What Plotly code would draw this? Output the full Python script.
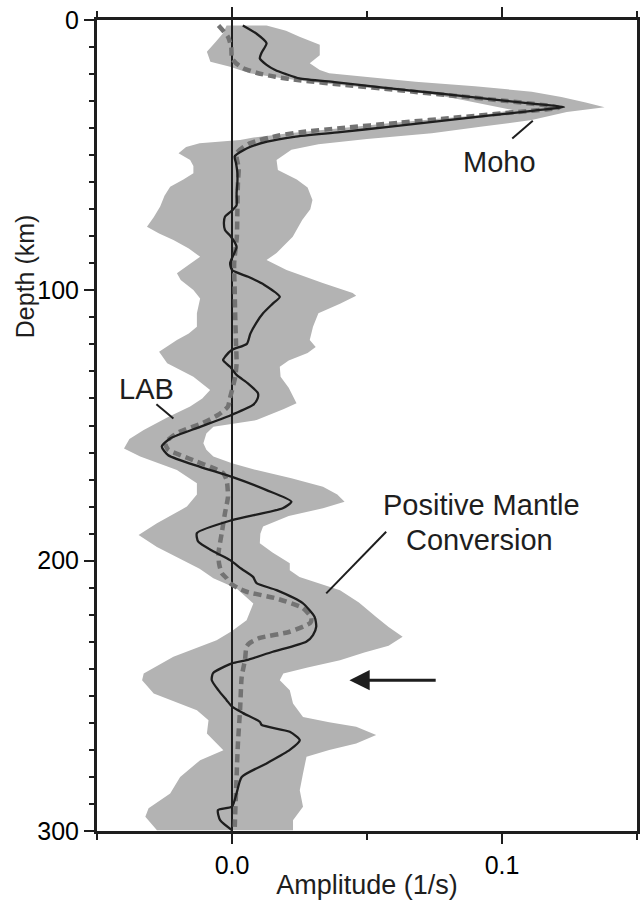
import plotly.graph_objects as go

# ---------------- data ----------------
DEPTH_RANGE = [0, 300]
AMP_RANGE = [-0.05, 0.15]

# Stacked receiver function (solid black)
stack_depth = [2, 5, 8.6, 12, 14.2, 16.6, 18.5, 20, 21.6, 23, 25, 27, 29, 31, 32.2, 33.5, 35.5,
               37.5, 39.5, 41.5, 43.2, 45, 47.5, 50.5, 53, 56.7, 60, 64, 68.5, 70.5, 72.8, 75,
               77.7, 80, 83.9, 87, 90, 92.5, 95, 98, 102.4, 105, 108.5, 112, 116, 119.8, 122,
               124.5, 125.8, 128.3, 131.3, 134.5, 138, 140, 142.4, 146, 150.5, 154.8, 157.8,
               161, 165.3, 169, 173.9, 178.2, 180.6, 185, 189.8, 193, 196.5, 199.8, 203, 206,
               208.3, 210.9, 215.7, 220.8, 224.4, 227.5, 230, 233.7, 236.8, 238, 241.6, 244.2,
               248, 251.6, 254, 256.4, 259.6, 260.8, 263.3, 266.4, 270, 275, 280, 286, 291,
               292.3, 296, 299.7]
stack_amp = [0.004, 0.009, 0.0128, 0.011, 0.0103, 0.0128, 0.016, 0.02, 0.025, 0.038, 0.056,
             0.075, 0.093, 0.112, 0.123, 0.112, 0.094, 0.076, 0.058, 0.040, 0.023, 0.013,
             0.0054, 0.001, 0.0015, 0.002, 0.002, 0.0017, 0.0017, 0.0, -0.0026, -0.003,
             -0.0026, -0.0005, 0.0017, 0.0005, -0.0007, 0.0, 0.006, 0.012, 0.0177, 0.015,
             0.0115, 0.009, 0.0068, 0.0055, 0.0, -0.0025, -0.0033, -0.0007, 0.0017, 0.006,
             0.0096, 0.0095, 0.0078, 0.0, -0.0118, -0.0229, -0.026, -0.0236, -0.0118, 0.0,
             0.0128, 0.022, 0.0188, 0.0, -0.013, -0.0125, -0.007, -0.0007, 0.0035, 0.0078,
             0.0091, 0.0165, 0.0262, 0.0306, 0.0312, 0.03, 0.0275, 0.0151, 0.0054, 0.0,
             -0.007, -0.0075, -0.005, -0.002, 0.0, 0.0041, 0.0103, 0.011, 0.0214, 0.0251,
             0.0214, 0.0128, 0.0036, 0.0017, 0.0, -0.0052, -0.0044, 0.0]

# Model / synthetic (dashed gray)
model_depth = [2, 6.2, 10, 14.2, 16, 17.8, 19.5, 21, 22.3, 24, 26, 28, 30, 31.8, 32.4, 33, 34,
               36, 38, 40, 41.4, 42.8, 45.6, 49.3, 55, 60, 70, 80, 90, 100, 110, 120, 127,
               132, 137, 140, 143, 146, 149, 152.8, 156.5, 159, 161, 163.4, 165.5, 167.6,
               170.2, 176.4, 182.4, 189.8, 197.2, 201, 204.6, 206.5, 208.3, 210, 211.5, 214,
               217.5, 221.2, 223, 226.3, 228.6, 230.5, 231.8, 236.8, 242.9, 255, 267.5, 280,
               296, 299.7]
model_amp = [-0.005, -0.0015, -0.0003, 0.0, 0.0015, 0.0041, 0.009, 0.016, 0.025, 0.042, 0.062,
             0.082, 0.102, 0.118, 0.121, 0.117, 0.106, 0.084, 0.062, 0.040, 0.026, 0.017,
             0.0066, 0.0017, 0.0025, 0.0022, 0.002, 0.0018, 0.0008, 0.001, 0.0012, 0.0015,
             0.0017, 0.0012, 0.0, -0.0008, -0.0015, -0.005, -0.0107, -0.0204, -0.0247,
             -0.0236, -0.019, -0.013, -0.0075, -0.0033, -0.002, -0.0015, -0.0026, -0.0038,
             -0.005, -0.0048, -0.0038, -0.002, -0.0007, 0.002, 0.0054, 0.0165, 0.0262,
             0.0294, 0.029, 0.0214, 0.0103, 0.0065, 0.0054, 0.0048, 0.0036, 0.003, 0.0022,
             0.0017, 0.0011, 0.001]

# Uncertainty band, left edge
band_left_depth = [2, 4.9, 8, 11.7, 15.4, 17.3, 19.7, 21.5, 23, 24.5, 26, 27.5, 29.5, 31.5,
                   33.3, 35, 36.7, 38.2, 40, 41.9, 43.5, 44.4, 45.6, 47, 49.3, 51.8, 54, 56.7,
                   59, 61.7, 65, 69, 73, 76.5, 79, 81.4, 84.5, 87.6, 90.5, 93.7, 96.2, 99.9,
                   103, 108.5, 113.5, 116, 118.4, 122.7, 127, 132, 136.9, 140, 143, 147, 151.7,
                   155, 158.5, 161.5, 166.5, 171.4, 175.5, 180, 186.2, 190.5, 194.9, 199.8,
                   203, 206.5, 210.3, 215.8, 222, 226, 229.4, 235.5, 241.7, 244.2, 249.1,
                   255.3, 259, 263.9, 270.1, 273.8, 280, 286.1, 291.6, 294.7, 299.7]
band_left_amp = [-0.002, -0.0033, -0.006, -0.0093, -0.008, -0.0007, 0.0066, 0.018, 0.03,
                 0.045, 0.060, 0.074, 0.085, 0.095, 0.104, 0.094, 0.074, 0.058, 0.040, 0.021,
                 0.008, 0.003, -0.012, -0.017, -0.0198, -0.0155, -0.0143, -0.0143, -0.018,
                 -0.0229, -0.025, -0.0266, -0.029, -0.0315, -0.027, -0.0217, -0.016, -0.0118,
                 -0.016, -0.0204, -0.019, -0.0143, -0.0118, -0.013, -0.013, -0.016, -0.0204,
                 -0.027, -0.024, -0.0143, -0.0081, -0.011, -0.0155, -0.024, -0.0327, -0.038,
                 -0.04, -0.034, -0.0204, -0.013, -0.013, -0.0167, -0.0278, -0.0346, -0.0278,
                 -0.018, -0.012, -0.0069, 0.0017, 0.0079, 0.0054, 0.0, -0.0057, -0.0217,
                 -0.0327, -0.0333, -0.029, -0.013, -0.0087, -0.0093, -0.0032, -0.0118,
                 -0.0192, -0.0229, -0.0309, -0.0321, -0.0278]

# Uncertainty band, right edge
band_right_depth = [2, 4, 6.2, 9.2, 13, 16, 18.5, 19.7, 21, 22.8, 24.5, 26.5, 28.5, 30.5, 32.3,
                    34, 37, 39.5, 41.9, 44, 46, 48, 51.8, 55.5, 59, 62, 66.6, 70, 74, 80.2,
                    86.2, 88.8, 92.5, 97.3, 101, 102, 105, 108.5, 113.5, 118.4, 121, 123.2,
                    126, 128.3, 132, 136, 141.8, 144, 148, 150.5, 153, 156.6, 159, 161.5, 164,
                    166.5, 169.5, 172.7, 175.5, 178.2, 180.6, 183.5, 187.4, 190, 193.6, 197,
                    201, 203.5, 206, 210.9, 215.5, 220.8, 224.5, 228.1, 231.5, 234, 236.8,
                    239.5, 241.7, 244.2, 247.9, 252.8, 257.8, 259.8, 261.4, 264.5, 267.6, 270,
                    272.5, 278.7, 284.9, 291, 296, 299.7]
band_right_amp = [0.0128, 0.02, 0.025, 0.0325, 0.0325, 0.0288, 0.0325, 0.036, 0.048, 0.068,
                  0.09, 0.111, 0.122, 0.131, 0.138, 0.124, 0.111, 0.092, 0.074, 0.05, 0.032,
                  0.022, 0.0165, 0.017, 0.024, 0.028, 0.0298, 0.029, 0.026, 0.0225, 0.0165,
                  0.0128, 0.0202, 0.0336, 0.0447, 0.046, 0.04, 0.032, 0.03, 0.0288, 0.031,
                  0.028, 0.021, 0.0177, 0.018, 0.021, 0.0239, 0.019, 0.0091, -0.0069, -0.0095,
                  -0.0106, -0.0095, -0.0069, 0.0, 0.0091, 0.022, 0.0337, 0.039, 0.0417, 0.0337,
                  0.021, 0.0115, 0.0105, 0.0103, 0.015, 0.0214, 0.0214, 0.025, 0.04, 0.047,
                  0.0534, 0.058, 0.0632, 0.058, 0.049, 0.04, 0.028, 0.019, 0.0177, 0.0214,
                  0.0226, 0.0263, 0.036, 0.046, 0.0534, 0.046, 0.036, 0.0276, 0.0263, 0.0251,
                  0.0263, 0.0226, 0.0226]

# Annotations (amplitude, depth)
labels = ["Moho", "LAB", "Positive Mantle", "Conversion"]
label_pos = [(0.0989, 52.6), (-0.0315, 136.5), (0.0924, 179.4), (0.0918, 192.2)]
leaders = [((0.1038, 43.8), (0.1114, 37.3)),
           ((-0.028, 142.1), (-0.0217, 147.4)),
           ((0.0349, 212.1), (0.0571, 189.3))]
arrow_tip = (0.0435, 244.2)
arrow_tail = (0.076, 244.2)

FONT = "Liberation Sans, Arial, Helvetica, sans-serif"
INK = "#1e1e1e"

# ---------------- figure ----------------
fig = go.Figure()

band_x = band_left_amp + band_right_amp[::-1]
band_y = band_left_depth + band_right_depth[::-1]
fig.add_trace(go.Scatter(x=band_x, y=band_y, mode="lines", fill="toself",
                         fillcolor="#b3b3b3", line=dict(width=0, color="#b3b3b3"),
                         hoverinfo="skip", showlegend=False))

fig.add_trace(go.Scatter(x=[0, 0], y=DEPTH_RANGE, mode="lines",
                         line=dict(color=INK, width=2), showlegend=False, hoverinfo="skip"))

fig.add_trace(go.Scatter(x=model_amp, y=model_depth, mode="lines",
                         line=dict(color="#737373", width=4.5, dash="8px,5px", shape="spline",
                                   smoothing=0.6),
                         showlegend=False))

fig.add_trace(go.Scatter(x=stack_amp, y=stack_depth, mode="lines",
                         line=dict(color=INK, width=2.3, shape="spline", smoothing=0.6),
                         showlegend=False))

for txt, (ax_, ay_) in zip(labels, label_pos):
    fig.add_annotation(x=ax_, y=ay_, text=txt, showarrow=False, xanchor="center",
                       yanchor="middle", font=dict(family=FONT, size=29, color=INK))

for (p0, p1) in leaders:
    fig.add_shape(type="line", x0=p0[0], y0=p0[1], x1=p1[0], y1=p1[1],
                  line=dict(color=INK, width=2), layer="above")

fig.add_annotation(x=arrow_tip[0], y=arrow_tip[1], ax=arrow_tail[0], ay=arrow_tail[1],
                   axref="x", ayref="y", text="", showarrow=True, arrowhead=2,
                   arrowsize=1.35, arrowwidth=3, arrowcolor=INK)

# y-axis title sits above the axis centre in the reference
fig.add_annotation(xref="paper", yref="y", x=-0.133, y=94.7, text="Depth (km)",
                   textangle=-90, showarrow=False, xanchor="center", yanchor="middle",
                   font=dict(family=FONT, size=25, color=INK))

fig.update_xaxes(range=AMP_RANGE, dtick=0.1, tick0=0, tickformat=".1f", automargin=False,
                 showgrid=False, zeroline=False, showline=True, linewidth=3, linecolor=INK,
                 mirror="allticks", ticks="outside", ticklen=10, tickwidth=2, tickcolor=INK,
                 minor=dict(dtick=0.05, tick0=0, ticks="outside", ticklen=6, tickwidth=2,
                            tickcolor=INK, showgrid=False),
                 tickfont=dict(family=FONT, size=25, color="#000"),
                 title=dict(text="Amplitude (1/s)", font=dict(family=FONT, size=27, color=INK),
                            standoff=2))
fig.update_yaxes(range=DEPTH_RANGE[::-1], dtick=100, tick0=0, automargin=False,
                 showgrid=False, zeroline=False, showline=True, linewidth=3, linecolor=INK,
                 mirror="allticks", ticks="outside", ticklen=10, tickwidth=2, tickcolor=INK,
                 minor=dict(dtick=10, tick0=0, ticks="outside", ticklen=5, tickwidth=1.5,
                            tickcolor=INK, showgrid=False),
                 tickfont=dict(family=FONT, size=25, color="#000"))

fig.update_layout(width=640, height=900, margin=dict(l=97, r=3, t=20, b=69),
                  plot_bgcolor="white", paper_bgcolor="white", showlegend=False)

fig.write_html("out.html")
